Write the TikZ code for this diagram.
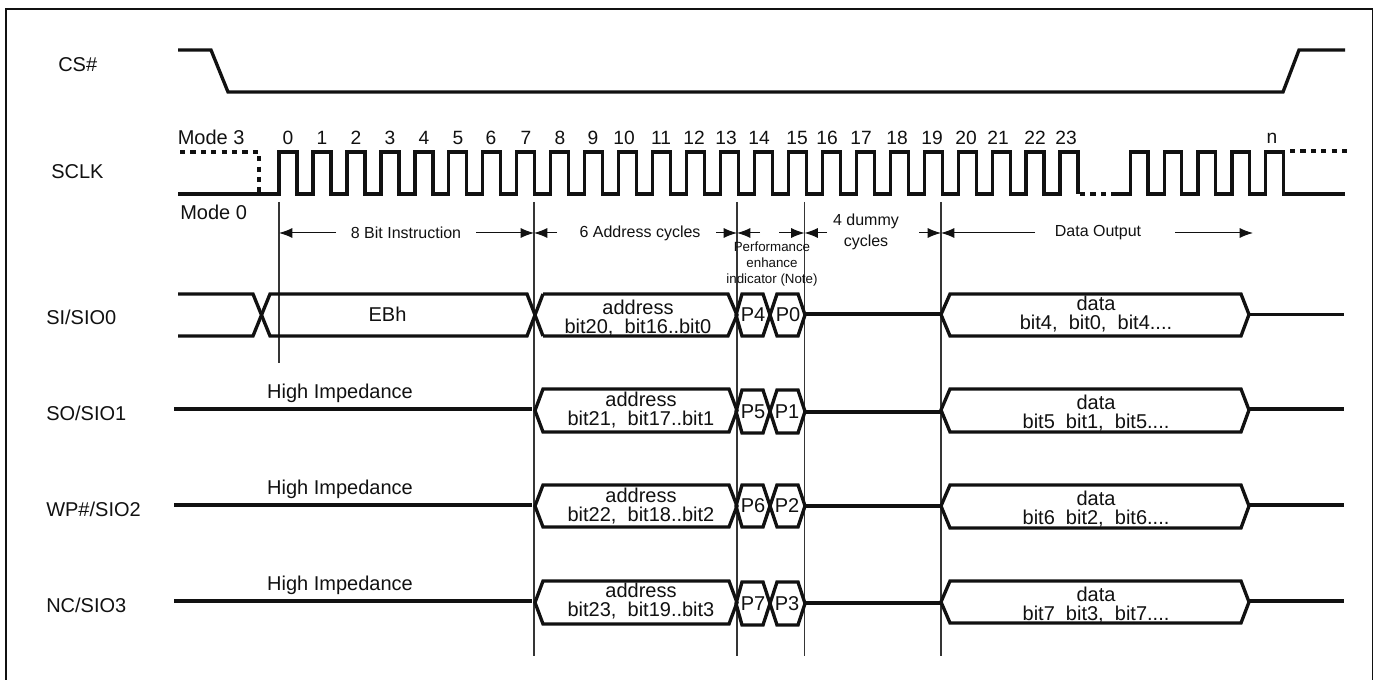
\documentclass[tikz,border=0pt]{standalone}
\usepackage{fontspec}
\setmainfont{Liberation Sans}
\usetikzlibrary{arrows.meta}
\definecolor{ink}{HTML}{111111}
\tikzset{
  wave/.style={line width=2.5pt,draw=ink,line join=miter,line cap=butt},
  dotwave/.style={line width=2.5pt,draw=ink,dash pattern=on 3.9pt off 3.9pt},
  marker/.style={line width=1pt,draw=ink!85},
  dim/.style={line width=0.75pt,draw=ink},
  dimtip/.style={-{Latex[length=10pt,width=7.5pt]}},
  big/.style={inner sep=0pt,text=ink,align=center,font=\fontsize{15pt}{14.25pt}\selectfont},
  mid/.style={inner sep=0pt,text=ink,align=center,font=\fontsize{12pt}{13.4pt}\selectfont},
  tiny/.style={inner sep=0pt,text=ink,align=center,font=\fontsize{10pt}{12pt}\selectfont},
  num/.style={inner sep=0pt,text=ink,font=\fontsize{14.4pt}{16pt}\selectfont},
}
% hexagon: left apex, top-left, top-right, right apex, top, mid, bottom
\newcommand{\hexbus}[7]{\draw[wave] (#1,#6) -- (#2,#5) -- (#3,#5) -- (#4,#6) -- (#3,#7) -- (#2,#7) -- cycle;}
\begin{document}
\begin{tikzpicture}[x=0.75pt,y=-0.75pt]
\useasboundingbox (0,0) rectangle (1379,680);
% frame (its lower edge lies outside the picture)
\draw[line width=1.2pt,draw=ink] (6,680) -- (6,9) -- (1372.5,9) -- (1372.5,680);

% markers
\coordinate (m0t) at (279,202); \coordinate (m0b) at (279,363);
\coordinate (m1t) at (534,202); \coordinate (m1b) at (534,656);
\coordinate (m2t) at (737,202); \coordinate (m2b) at (737,656);
\coordinate (m3t) at (804.5,202); \coordinate (m3b) at (804.5,656);
\coordinate (m4t) at (941,202); \coordinate (m4b) at (941,656);
\foreach \k in {0,...,4} \draw[marker] (m\k t) -- (m\k b);

% signal names
\node[big,anchor=west] (lcs) at (58,65) {CS\#};
\node[big,anchor=west] (lsclk) at (51,172) {SCLK};
\node[big,anchor=west] (lsi) at (46,317) {SI/SIO0};
\node[big,anchor=west] (lso) at (46,413) {SO/SIO1};
\node[big,anchor=west] (lwp) at (46,509) {WP\#/SIO2};
\node[big,anchor=west] (lnc) at (46,605) {NC/SIO3};
\node[big,anchor=west] (lm3) at (177.5,137) {Mode 3};
\node[big,anchor=west] (lm0) at (180,212) {Mode 0};

% CS#
\draw[wave] (178,50) -- (211,50) -- (228,92) -- (1283,92) -- (1299,50) -- (1345,50);

% SCLK
\draw[wave] (178,194) foreach \i in {0,...,23} { -- ({279+33.96*\i},194) -- ({279+33.96*\i},152) -- ({297+33.96*\i},152) -- ({297+33.96*\i},194) };
\draw[dotwave] (1080,194) -- (1113,194);
\draw[wave] (1113,194) foreach \i in {0,...,4} { -- ({1130.5+33.8*\i},194) -- ({1130.5+33.8*\i},152) -- ({1148+33.8*\i},152) -- ({1148+33.8*\i},194) } -- (1345,194);
\draw[dotwave] (180,152) -- (259,152) -- (259,194);
\draw[dotwave] (1290,151) -- (1349,151);

% clock numbers
\foreach \n/\x in {0/288,1/322,2/356,3/390,4/424,5/458,6/491,7/526,8/560,9/593,10/624,11/661,12/694,13/726,14/759,15/797,16/827,17/861,18/897,19/932,20/966,21/998,22/1035,23/1066,n/1272}
  \node[num] (c\n) at (\x,138) {\n};

% span labels
\node[mid] (s0) at (406,233) {8 Bit Instruction};
\node[mid] (s1) at (640,233) {6 Address cycles};
\node[mid] (s3) at (866,232) {4 dummy\\[2pt]cycles};
\node[mid] (s4) at (1098,233) {Data Output};
\node[tiny] (s2) at (772,264) {Performance\\enhance\\indicator (Note)};
\coordinate (a0) at (279,233); \coordinate (a0e) at (336,233);
\coordinate (a1) at (534,233); \coordinate (a1s) at (476,233); \coordinate (a1e) at (557,233);
\coordinate (a2) at (737,233); \coordinate (a2s) at (716,233); \coordinate (a2e) at (760,233);
\coordinate (a3) at (804.5,233); \coordinate (a3s) at (779,233); \coordinate (a3e) at (827,233);
\coordinate (a4) at (941,233); \coordinate (a4s) at (919,233); \coordinate (a4e) at (1035,233);
\coordinate (a5s) at (1175,233); \coordinate (a5) at (1253,233);
\draw[dim,dimtip] (a0e) -- (a0);
\draw[dim,dimtip] (a1s) -- (a1);
\draw[dim,dimtip] (a1e) -- (a1);
\draw[dim,dimtip] (a2s) -- (a2);
\draw[dim,dimtip] (a2e) -- (a2);
\draw[dim,dimtip] (a3s) -- (a3);
\draw[dim,dimtip] (a3e) -- (a3);
\draw[dim,dimtip] (a4s) -- (a4);
\draw[dim,dimtip] (a4e) -- (a4);
\draw[dim,dimtip] (a5s) -- (a5);

% SI/SIO0
\draw[wave] (178,294) -- (253,294) -- (270,336) -- (527,336) -- (543,294);
\draw[wave] (178,336) -- (253,336) -- (270,294) -- (527,294) -- (543,336);
\draw[wave] (543,294) -- (728,294) -- (737,315) -- (728,336) -- (543,336);
\hexbus{736}{742}{763}{770}{294}{315}{336}
\hexbus{770}{777}{798}{805}{294}{315}{336}
\draw[wave] (805,314) -- (941,314);
\hexbus{941}{950}{1241}{1249}{294}{314.5}{336}
\draw[wave] (1249,314.5) -- (1344,314.5);
\node[big] (ebh) at (387.5,314) {EBh};
\node[big] (a0t) at (638,318) {address\\bit20,~~bit16..bit0};
\node[big] (p4) at (753,315) {P4};
\node[big] (p0) at (788,315) {P0};
\node[big] (d0) at (1096,314) {data\\bit4,~~bit0,~~bit4....};

% SO/SIO1
\draw[wave] (174,409) -- (532,409);
\hexbus{535}{543}{729}{737}{389}{410.5}{432}
\hexbus{736}{742}{763}{770}{390}{411.5}{433}
\hexbus{770}{777}{798}{805}{390}{411.5}{433}
\draw[wave] (805,412) -- (941,412);
\hexbus{941}{950}{1241}{1249}{389}{410}{432}
\draw[wave] (1249,409) -- (1344,409);
\node[big] (hi1) at (340,393) {High Impedance};
\node[big] (a1t) at (641,410) {address\\bit21,~~bit17..bit1};
\node[big] (p5) at (753,412) {P5};
\node[big] (p1) at (787,412) {P1};
\node[big] (d1) at (1096,413) {data\\bit5~~bit1,~~bit5....};

% WP#/SIO2
\draw[wave] (174,505) -- (532,505);
\hexbus{535}{543}{729}{737}{485}{506}{527}
\hexbus{736}{742}{763}{770}{485}{506}{527}
\hexbus{770}{777}{798}{805}{485}{506}{527}
\draw[wave] (805,506) -- (941,506);
\hexbus{941}{950}{1241}{1249}{485}{506}{528}
\draw[wave] (1249,505) -- (1344,505);
\node[big] (hi2) at (340,489) {High Impedance};
\node[big] (a2t) at (641,506) {address\\bit22,~~bit18..bit2};
\node[big] (p6) at (753,506) {P6};
\node[big] (p2) at (787,506) {P2};
\node[big] (d2) at (1096,509) {data\\bit6~~bit2,~~bit6....};

% NC/SIO3
\draw[wave] (174,601) -- (532,601);
\hexbus{535}{543}{729}{737}{581}{602.5}{624}
\hexbus{736}{742}{763}{770}{582}{603.5}{625}
\hexbus{770}{777}{798}{805}{582}{603.5}{625}
\draw[wave] (805,603) -- (941,603);
\hexbus{941}{950}{1241}{1249}{581}{602}{623}
\draw[wave] (1249,601) -- (1344,601);
\node[big] (hi3) at (340,585) {High Impedance};
\node[big] (a3t) at (641,601) {address\\bit23,~~bit19..bit3};
\node[big] (p7) at (753,604) {P7};
\node[big] (p3) at (787,604) {P3};
\node[big] (d3) at (1096,605) {data\\bit7~~bit3,~~bit7....};
\end{tikzpicture}
\end{document}
